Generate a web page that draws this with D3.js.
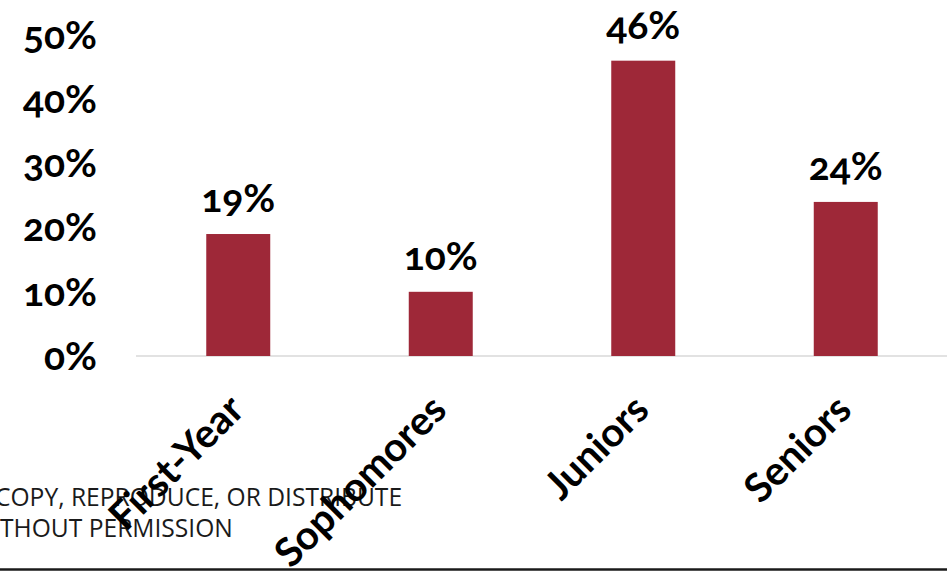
<!DOCTYPE html>
<html><head><meta charset="utf-8">
<script src="https://cdn.jsdelivr.net/npm/d3@7/dist/d3.min.js"></script>
<style>
html,body{margin:0;padding:0;background:#fff;}
svg{display:block;}
.num{font-family:Lato,"Open Sans",sans-serif;font-weight:700;font-variant-numeric:oldstyle-nums;font-feature-settings:"onum" 1;}
</style></head>
<body>
<script>
const categories = ["First-Year", "Sophomores", "Juniors", "Seniors"];
const values = [19, 10, 46, 24];
const yTicks = [0, 10, 20, 30, 40, 50];
const watermark = ["COPY, REPRODUCE, OR DISTRIBUTE", "THOUT PERMISSION"];

const W = 947, H = 573;
const svg = d3.select("body").append("svg").attr("width", W).attr("height", H);

const x = d3.scaleBand().domain(categories).range([137, 947]).paddingInner(0.684).paddingOuter(0.342);
const y = d3.scaleLinear().domain([0, 50]).range([356, 35]);

// watermark (under labels)
svg.append("g").selectAll("text").data(watermark).join("text")
  .attr("x", (d, i) => i === 0 ? -5 : 0)
  .attr("y", (d, i) => 506 + i * 31)
  .attr("font-family", "'Open Sans', sans-serif")
  .attr("font-size", 24.6)
  .attr("fill", "#1a1a1a")
  .text(d => d);

// bottom rule
svg.append("line").attr("x1", 0).attr("x2", W).attr("y1", 569.5).attr("y2", 569.5)
  .attr("stroke", "#1a1a1a").attr("stroke-width", 2.5);

// baseline gridline
svg.append("line").attr("x1", 136).attr("x2", W).attr("y1", y(0)).attr("y2", y(0))
  .attr("stroke", "#d9d9d9").attr("stroke-width", 1.5);

// y axis labels
const yAxis = d3.axisLeft(y).tickValues(yTicks).tickFormat(d => d + "%").tickSize(0).tickPadding(0);
const gy = svg.append("g").attr("transform", "translate(97,0)").call(yAxis);
gy.select(".domain").remove();
gy.selectAll("text").attr("class", "num").attr("font-size", 39).attr("fill", "#000")
  .attr("dy", "0.34em").attr("font-family", null);

// bars
svg.append("g").selectAll("rect").data(values).join("rect")
  .attr("x", (d, i) => x(categories[i]))
  .attr("width", x.bandwidth())
  .attr("y", d => y(d))
  .attr("height", d => y(0) - y(d))
  .attr("fill", "#9e2838");

// value labels
svg.append("g").selectAll("text").data(values).join("text")
  .attr("class", "num")
  .attr("x", (d, i) => x(categories[i]) + x.bandwidth() / 2)
  .attr("y", d => y(d) - 22)
  .attr("text-anchor", "middle")
  .attr("font-size", 39)
  .attr("fill", "#000")
  .text(d => d + "%");

// category labels
const xAxis = d3.axisBottom(x).tickSize(0).tickPadding(0);
const gx = svg.append("g").attr("transform", "translate(0,356)").call(xAxis);
gx.select(".domain").remove();
gx.selectAll("text")
  .attr("font-family", "Lato, 'Open Sans', sans-serif")
  .attr("font-weight", 700)
  .attr("font-size", 40)
  .attr("fill", "#000")
  .attr("text-anchor", "end")
  .attr("dy", 0).attr("y", 0)
  .attr("transform", "translate(8,56) rotate(-45)");
</script>
</body></html>
